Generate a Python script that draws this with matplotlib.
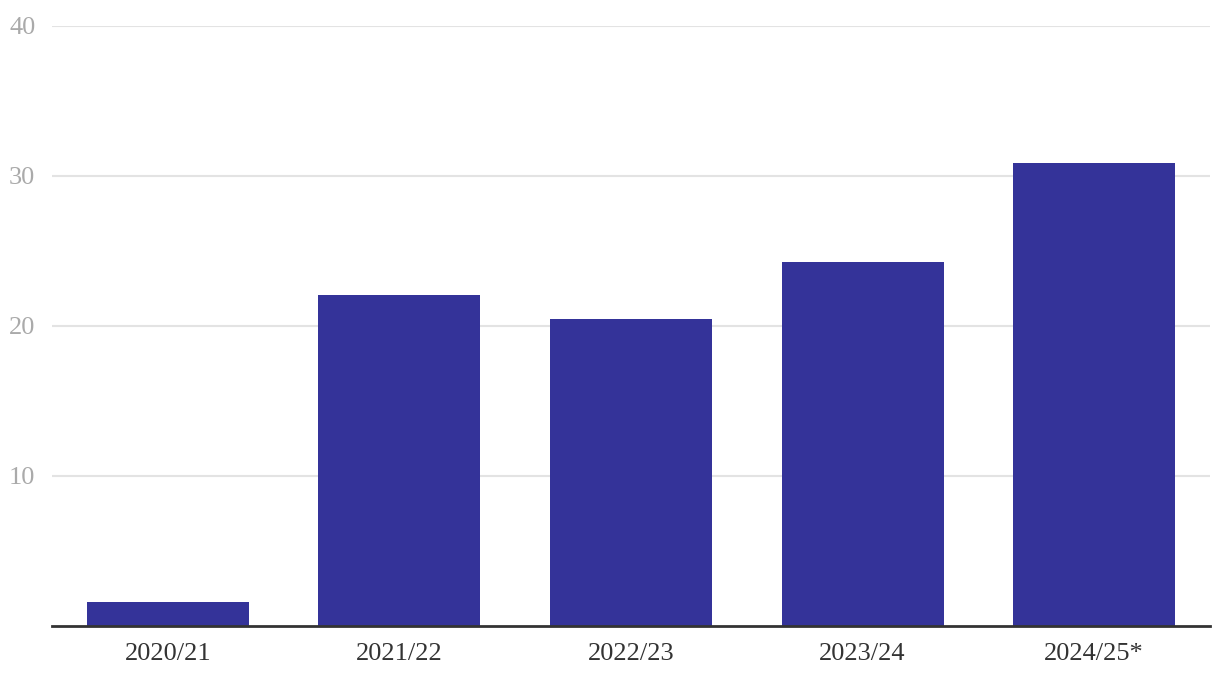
import matplotlib
matplotlib.use("Agg")
import matplotlib.pyplot as plt

# Data
seasons = ["2020/21", "2021/22", "2022/23", "2023/24", "2024/25*"]
values = [1.6, 22.1, 20.5, 24.3, 30.9]
yticks = [10, 20, 30, 40]

plt.rcParams['font.family'] = ['Liberation Serif', 'DejaVu Serif']

W, H = 1220, 684
fig = plt.figure(figsize=(W / 100, H / 100), dpi=100)
ax = fig.add_axes([52 / W, (H - 626) / H, (1210 - 52) / W, (626 - 26) / H])

x = range(len(seasons))
ax.bar(x, values, width=0.7, color='#343399', zorder=3)

ax.set_xlim(-0.5, len(seasons) - 0.5)
ax.set_ylim(0, 40)
ax.set_yticks(yticks)
ax.set_xticks(list(x))
ax.set_xticklabels(seasons)

ax.grid(axis='y', color='#e3e3e3', linewidth=1.5, zorder=0)
for side in ['top', 'right', 'left']:
    ax.spines[side].set_visible(False)
ax.spines['bottom'].set_color('#333333')
ax.spines['bottom'].set_linewidth(2)
ax.spines['bottom'].set_zorder(4)

ax.tick_params(axis='y', length=0, labelsize=19, labelcolor='#aaaaaa', pad=12)
ax.tick_params(axis='x', length=0, labelsize=19, labelcolor='#333333', pad=12)

fig.savefig("out.png", dpi=100)
